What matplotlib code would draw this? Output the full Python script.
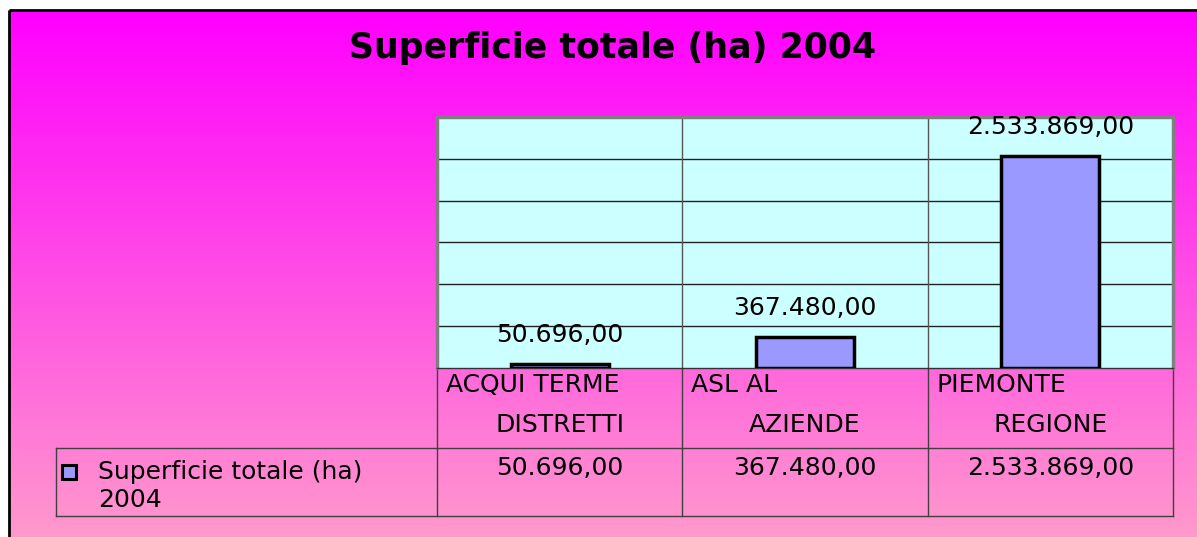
import numpy as np
import matplotlib
matplotlib.use("Agg")
import matplotlib.pyplot as plt
from matplotlib.lines import Line2D

# ---- data ----
title = "Superficie totale (ha) 2004"
series_name = "Superficie totale (ha) 2004"
cat_line1 = ["ACQUI TERME", "ASL AL", "PIEMONTE"]
cat_line2 = ["DISTRETTI", "AZIENDE", "REGIONE"]
values = [50696.00, 367480.00, 2533869.00]
y_max = 3000000
y_step = 500000


def fmt_it(v):
    """Italian number format: 1.234.567,00"""
    s = f"{v:,.2f}"
    return s.replace(",", "#").replace(".", ",").replace("#", ".")


W, H = 1197, 537
fig = plt.figure(figsize=(W / 100, H / 100), dpi=100, facecolor="white")


def fx(px):
    return px / W


def fy(py):
    return 1 - py / H


# ---- gradient backdrop ----
bg = fig.add_axes([fx(9), 0, 1 - fx(9), fy(10)])
c_top = np.array([255, 0, 255]) / 255
c_bot = np.array([255, 153, 204]) / 255
t = np.linspace(0, 1, 256)[:, None]
grad = c_top + (c_bot - c_top) * t
bg.imshow(grad[:, None, :], aspect="auto", extent=[0, 1, 0, 1], origin="upper")
bg.set_axis_off()
fig.add_artist(Line2D([fx(9), fx(9)], [0, fy(10)], color="black", lw=2,
                      solid_capstyle="butt"))
fig.add_artist(Line2D([fx(9), 1], [fy(10), fy(10)], color="black", lw=2,
                      solid_capstyle="butt"))

# ---- title ----
fig.text(fx(613), fy(48), title, fontsize=25, fontweight="bold",
         ha="center", va="center", color="black")

# ---- plot area ----
L, R, T, B = 437, 1173, 117, 368
ax = fig.add_axes([fx(L), fy(B), fx(R) - fx(L), fy(T) - fy(B)])
ax.set_facecolor("#CCFFFF")

x = np.arange(len(values))
ax.bar(x, values, width=0.4, color="#9999FF", edgecolor="black",
       linewidth=2.5, zorder=3)
ax.set_xlim(-0.5, len(values) - 0.5)
ax.set_ylim(0, y_max)
ax.set_yticks(np.arange(y_step, y_max, y_step))
ax.set_xticks([])
ax.yaxis.grid(True, color="#222222", lw=1)
ax.set_axisbelow(True)
ax.tick_params(length=0, labelleft=False)
for b in x[:-1] + 0.5:
    ax.axvline(b, color="#555555", lw=1, zorder=1)
for s in ("left", "top", "right"):
    ax.spines[s].set_color("#808080")
    ax.spines[s].set_linewidth(2.5)
ax.spines["bottom"].set_color("#333333")
ax.spines["bottom"].set_linewidth(1)

for xi, v in zip(x, values):
    ax.annotate(fmt_it(v), (xi, v), xytext=(0, 29), textcoords="offset pixels",
                ha="center", va="center", fontsize=18, color="black",
                annotation_clip=False)

# ---- data table below the plot ----
trans = ax.get_xaxis_transform()
n = len(values)


def dx(px):
    return -0.5 + (px - L) / (R - L) * n


def ay(py):
    return (B - py) / (B - T)


line_kw = dict(color="#404040", lw=1, transform=trans, clip_on=False)
ax.plot([dx(56), n - 0.5], [ay(448), ay(448)], **line_kw)
ax.plot([dx(56), n - 0.5], [ay(516), ay(516)], **line_kw)
ax.plot([dx(56), dx(56)], [ay(448), ay(516)], **line_kw)
for b in np.arange(n + 1) - 0.5:
    ax.plot([b, b], [ay(B), ay(516)], **line_kw)

txt_kw = dict(transform=trans, clip_on=False, fontsize=18, color="black")
for i in range(n):
    ax.text(i - 0.5 + 9 * n / (R - L), ay(385), cat_line1[i],
            ha="left", va="center", **txt_kw)
    ax.text(i, ay(425), cat_line2[i], ha="center", va="center", **txt_kw)
    ax.text(i, ay(468), fmt_it(values[i]), ha="center", va="center", **txt_kw)

# legend key and series name in the row header
ax.plot([dx(69)], [ay(472)], marker="s", ms=10, mfc="#9999FF", mec="black",
        mew=2.2, transform=trans, clip_on=False)
name1, name2 = series_name.rsplit(" ", 1)
ax.text(dx(98), ay(472), name1, ha="left", va="center", **txt_kw)
ax.text(dx(98), ay(500), name2, ha="left", va="center", **txt_kw)

fig.savefig("out.png", dpi=100, facecolor="white")
